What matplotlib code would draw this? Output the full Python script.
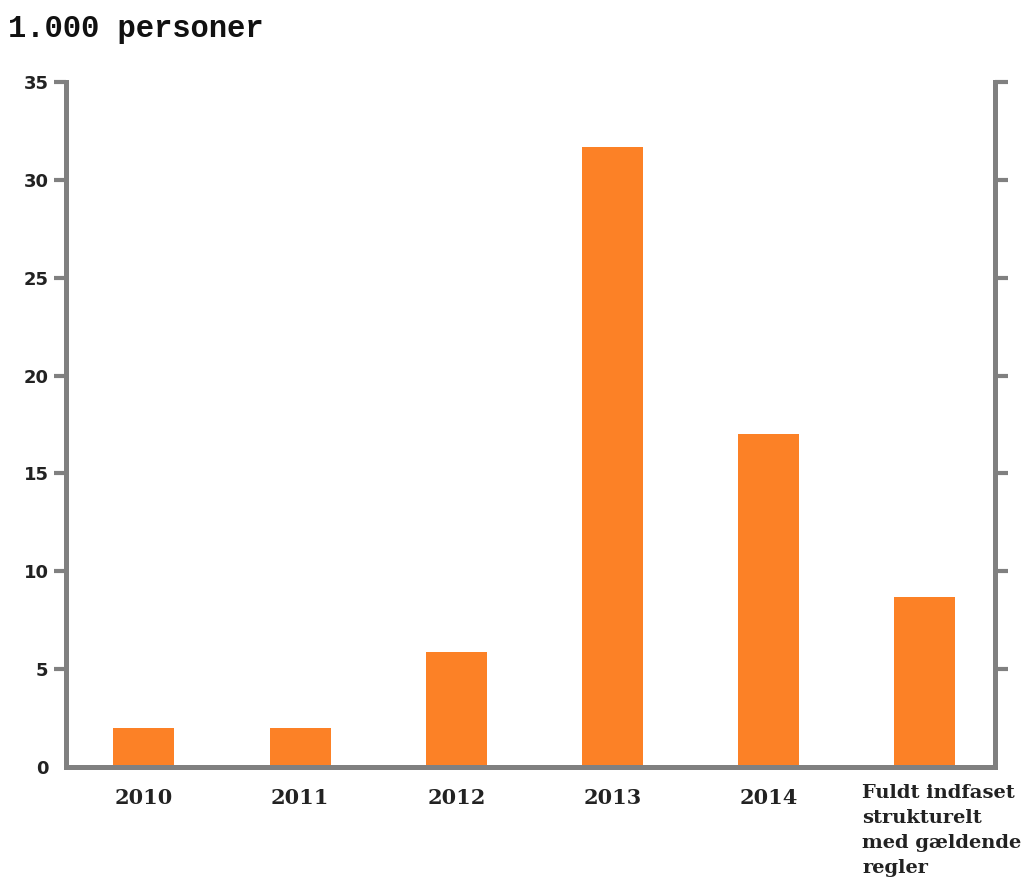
import matplotlib
matplotlib.use("Agg")
import matplotlib.pyplot as plt

categories = ["2010", "2011", "2012", "2013", "2014",
              "Fuldt indfaset\nstrukturelt\nmed gældende\nregler"]
values = [2.0, 2.0, 5.9, 31.7, 17.0, 8.7]
yticks = [0, 5, 10, 15, 20, 25, 30, 35]

bar_color = "#FC8126"
axis_color = "#808080"

fig = plt.figure(figsize=(10.29, 8.84), dpi=100)
ax = fig.add_axes([0.064, 0.1324, 0.903, 0.7746])

x = list(range(len(categories)))
ax.bar(x, values, width=0.39, color=bar_color, zorder=2)
ax.set_xlim(-0.5, 5.45)
ax.set_ylim(0, 35)
ax.set_yticks(yticks)
ax.set_yticklabels([str(t) for t in yticks], fontfamily="DejaVu Sans",
                   fontweight="bold", fontsize=13, color="#222222")

ax.set_xticks(x)
ax.set_xticklabels([])
ax.tick_params(axis="x", length=0)
for i, lab in enumerate(categories):
    if i < len(categories) - 1:
        ax.text(i, -1.1, lab, ha="center", va="top", fontfamily="DejaVu Serif",
                fontweight="bold", fontsize=15, color="#222222")
    else:
        ax.text(i - 0.4, -0.85, lab, ha="left", va="top", fontfamily="DejaVu Serif",
                fontweight="bold", fontsize=14, color="#222222", linespacing=1.5)

ax.spines["top"].set_visible(False)
for side in ["left", "right", "bottom"]:
    ax.spines[side].set_color(axis_color)
    ax.spines[side].set_linewidth(3.6)

ax.tick_params(axis="y", which="both", direction="out", length=9, width=3,
               color=axis_color, left=True, right=True, labelright=False, pad=3.5)
t0 = ax.yaxis.get_major_ticks()[0]
t0.tick1line.set_visible(False)
t0.tick2line.set_visible(False)

fig.text(0.008, 0.967, "1.000 personer", fontfamily="Liberation Mono",
         fontweight="bold", fontsize=22, ha="left", va="center", color="#111111")

fig.savefig("out.png", dpi=100)
